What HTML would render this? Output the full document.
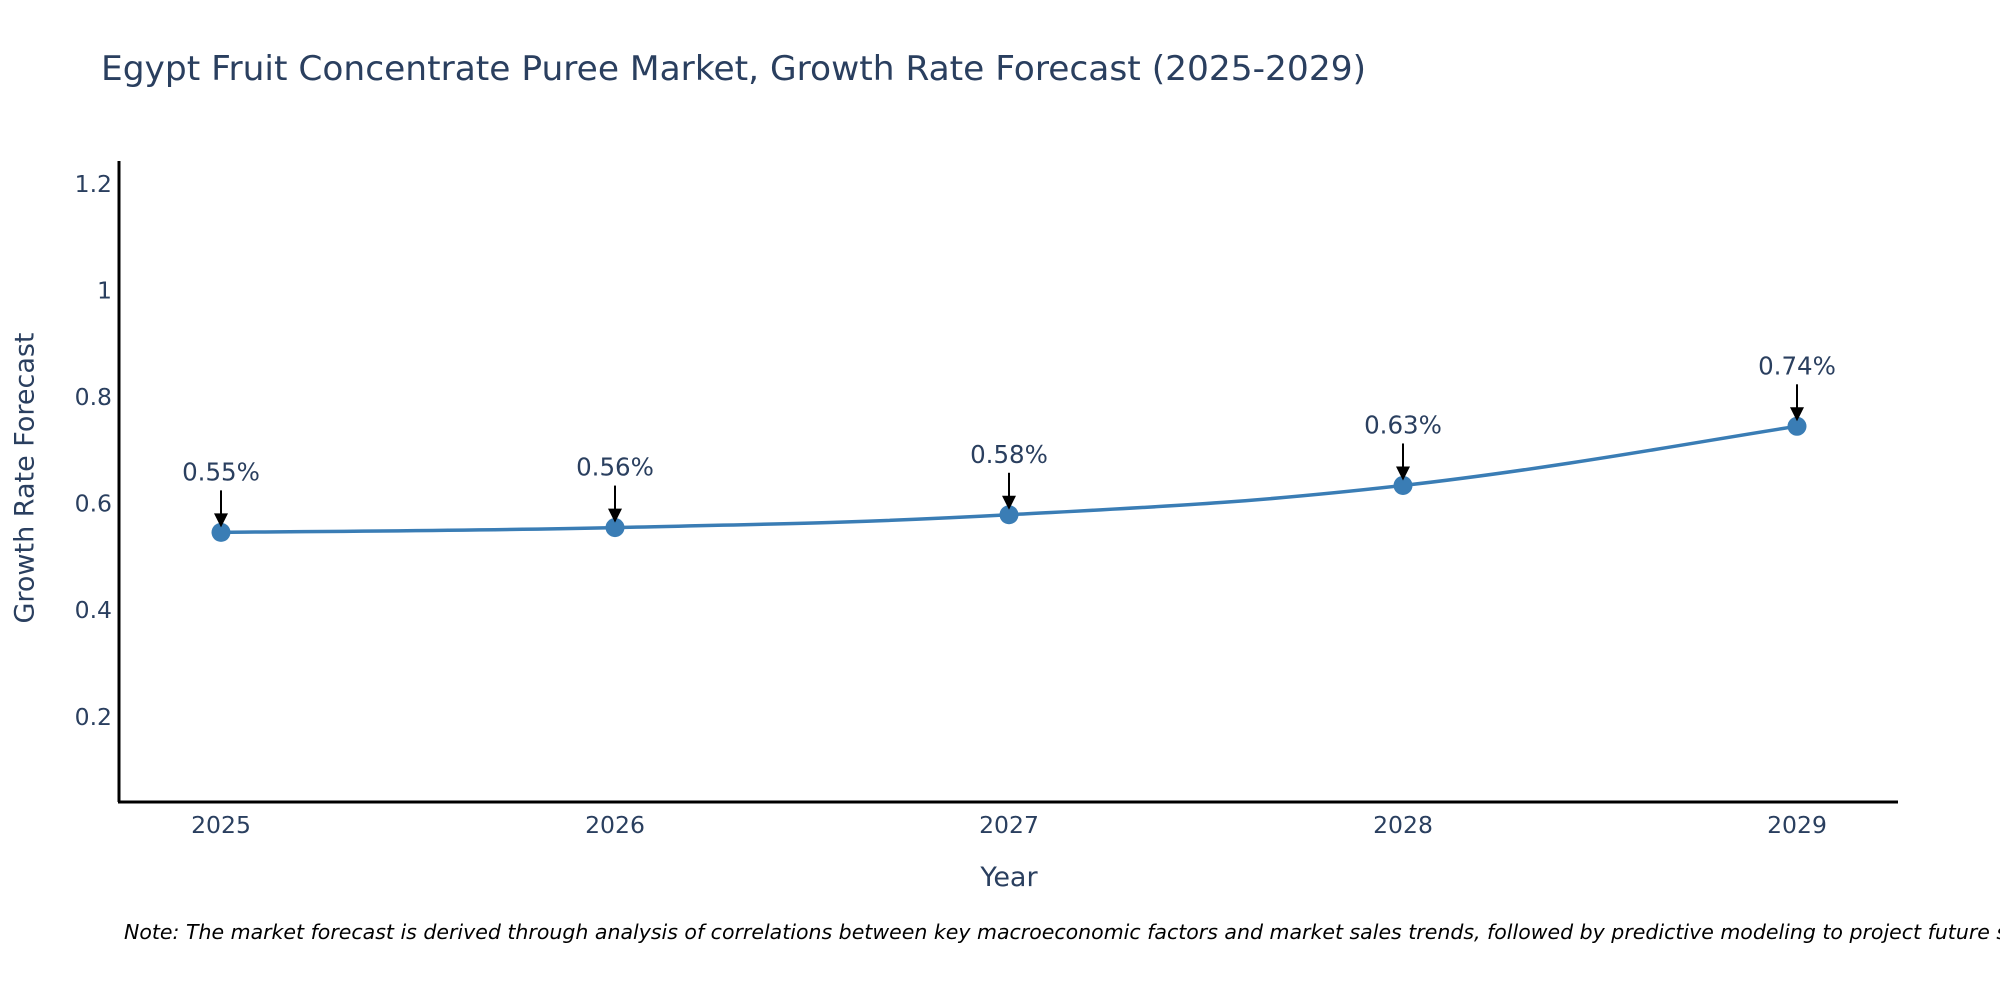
<!DOCTYPE html>
<html><head><meta charset="utf-8"><style>
html,body{margin:0;padding:0;background:#fff;}
svg{display:block;font-family:"DejaVu Sans","Liberation Sans",sans-serif;}
</style></head><body>
<svg id="chart" width="2000" height="1000" viewBox="0 0 2000 1000">
<text x="101" y="80" font-size="34" fill="#2a3f5f" textLength="1265" lengthAdjust="spacingAndGlyphs">Egypt Fruit Concentrate Puree Market, Growth Rate Forecast (2025-2029)</text>
<g id="yticks"></g>
<g id="xticks"></g>
<line x1="119" y1="161" x2="119" y2="802" stroke="#000" stroke-width="3"/>
<line x1="118" y1="802" x2="1898" y2="802" stroke="#000" stroke-width="3"/>
<path id="line" fill="none" stroke="#3a7db5" stroke-width="3.5"/>
<g id="pts"></g>
<g id="ann"></g>
<text x="26" y="478" font-size="27" fill="#2a3f5f" text-anchor="middle" transform="rotate(-90 26 478)" dominant-baseline="middle">Growth Rate Forecast</text>
<text x="1009" y="886" font-size="27" fill="#2a3f5f" text-anchor="middle">Year</text>
<text x="124" y="939" font-size="20.5" font-style="italic" fill="#000">Note: The market forecast is derived through analysis of correlations between key macroeconomic factors and market sales trends, followed by predictive modeling to project future sales.</text>
</svg>
<script>
const years = [2025, 2026, 2027, 2028, 2029];
const values = [0.546, 0.555, 0.579, 0.634, 0.745];
const labels = ["0.55%", "0.56%", "0.58%", "0.63%", "0.74%"];
const yTicks = [0.2, 0.4, 0.6, 0.8, 1, 1.2];
const yTickLabels = ["0.2", "0.4", "0.6", "0.8", "1", "1.2"];

const NS = "http://www.w3.org/2000/svg";
const X0 = 221, X1 = 1797, Y0 = 801, YMIN = 0.042, PXU = 533;
function xs(yr){ return X0 + (yr - years[0]) * (X1 - X0) / (years[years.length-1] - years[0]); }
function ys(v){ return Y0 - (v - YMIN) * PXU; }
function mk(tag, attrs){ const e = document.createElementNS(NS, tag); for (const k in attrs) e.setAttribute(k, attrs[k]); return e; }

const yg = document.getElementById('yticks');
yTicks.forEach((t, i) => {
  const e = mk('text', {x: 112, y: ys(t) + 8, 'font-size': 23.5, fill: '#2a3f5f', 'text-anchor': 'end'});
  e.textContent = yTickLabels[i];
  
  
  yg.appendChild(e);
});
const xg = document.getElementById('xticks');
years.forEach(yr => {
  const e = mk('text', {x: xs(yr), y: 833, 'font-size': 23.5, fill: '#2a3f5f', 'text-anchor': 'middle'});
  e.textContent = String(yr);
  
  
  xg.appendChild(e);
});

const P = years.map((yr, i) => [xs(yr), ys(values[i])]);
let d = 'M' + P[0][0] + ',' + P[0][1];
const s = 0.2;
for (let i = 0; i < P.length - 1; i++) {
  const p0 = P[i-1] || P[i], p1 = P[i], p2 = P[i+1], p3 = P[i+2] || P[i+1];
  const c1 = [p1[0] + (p2[0]-p0[0])*s, p1[1] + (p2[1]-p0[1])*s];
  const c2 = [p2[0] - (p3[0]-p1[0])*s, p2[1] - (p3[1]-p1[1])*s];
  d += ' C' + c1 + ' ' + c2 + ' ' + p2;
}
document.getElementById('line').setAttribute('d', d);

const pg = document.getElementById('pts');
const ag = document.getElementById('ann');
P.forEach((p, i) => {
  const c = mk('circle', {cx: p[0], cy: p[1], r: 9.5, fill: '#3a7db5'});
  
  
  pg.appendChild(c);
  const a = mk('line', {x1: p[0], y1: p[1] - 42, x2: p[0], y2: p[1] - 16, stroke: '#000', 'stroke-width': 2});
  
  
  ag.appendChild(a);
  const h = mk('polygon', {points: (p[0]-7)+','+(p[1]-19)+' '+(p[0]+7)+','+(p[1]-19)+' '+p[0]+','+(p[1]-5), fill: '#000'});
  
  
  ag.appendChild(h);
  const t = mk('text', {x: p[0], y: p[1] - 52, 'font-size': 24.5, fill: '#2a3f5f', 'text-anchor': 'middle'});
  t.textContent = labels[i];
  
  
  ag.appendChild(t);
});
</script>
</body></html>
